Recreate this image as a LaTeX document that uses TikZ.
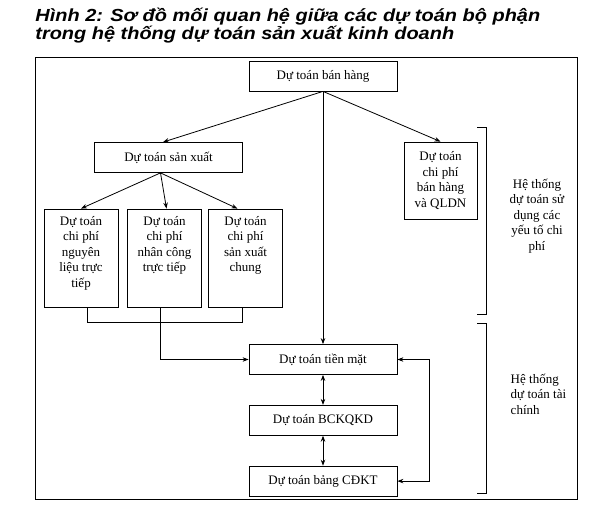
\documentclass[tikz,border=0pt]{standalone}
\usepackage{fontspec}
\setmainfont{Liberation Serif}
\newfontfamily\titlefont[FakeStretch=1.14]{Liberation Sans}
\usetikzlibrary{arrows.meta, positioning}

\newcommand{\toptext}[1]{\parbox[c][84pt][t]{68pt}{\centering #1}}

\begin{document}
\begin{tikzpicture}[
            x = 1pt, y = -1pt, % pixel grid, y downwards
            > = {Stealth[length=6pt, width=4.5pt]}, % arrow head style
            node distance = 30pt, % distance between nodes
            line width = 0.8pt, % line style
            font = \fontsize{13}{15.5}\selectfont
        ]

        \tikzstyle{box}=[
            draw = black,
            fill = white,
            inner sep = 2pt,
            minimum height = 30pt,
            minimum width = 148pt,
            align = center
        ]
        \tikzstyle{cpbox}=[
            box,
            inner xsep = 2pt,
            inner ysep = 7pt,
            minimum width = 74pt
        ]

        \useasboundingbox (0,0) rectangle (594,518);

        % title
        \node[anchor = north west, align = left, inner sep = 0pt,
              font = \titlefont\bfseries\itshape\fontsize{17.5}{16.5}\selectfont]
              (title) at (35,8) {Hình 2: Sơ đồ mối quan hệ giữa các dự toán bộ phận\\trong hệ thống dự toán sản xuất kinh doanh};

        \node[draw, anchor = north west, inner sep = 0pt,
              minimum width = 542pt, minimum height = 442pt] (frame) at (35,57) {};

        \node[box] (ban) at (323,76) {Dự toán bán hàng};
        \node[box] (sx) at (168.5,157.5) {Dự toán sản xuất};
        \node[box, minimum width = 73pt, minimum height = 77pt] (ql) at (440.5,180.5) {Dự toán\\chi phí\\bán hàng\\và QLDN};

        \node[cpbox] (cp1) at (81,258) {\toptext{Dự toán\\chi phí\\nguyên\\liệu trực\\tiếp}};
        \node[cpbox] (cp2) at (164.5,258) {\toptext{Dự toán\\chi phí\\nhân công\\trực tiếp}};
        \node[cpbox] (cp3) at (245.5,258) {\toptext{Dự toán\\chi phí\\sản xuất\\chung}};

        \node[box] (tm) at (323,359.5) {Dự toán tiền mặt};
        \node[box] (bc) [below = of tm] {Dự toán BCKQKD};
        \node[box] (cd) [below = of bc] {Dự toán bảng CĐKT};

        \draw[->] (ban.south) -- ([xshift=-5.5pt]sx.north);
        \draw[->] (ban.south) -- (ql.north);
        \draw[->] (ban.south) -- (tm.north);

        \draw[->] ([xshift=-8pt]sx.south) -- (cp1.north);
        \draw[->] ([xshift=-8pt]sx.south) -- ([xshift=2pt]cp2.north);
        \draw[->] ([xshift=-8pt]sx.south) -- ([xshift=-8pt]cp3.north);

        \draw ([xshift=6pt]cp1.south) -- ++(0,15) -| ([xshift=-3.5pt]cp3.south);
        \draw[->] ([xshift=-4pt]cp2.south) |- (tm.west);

        \draw[<->] (tm) -- (bc);
        \draw[<->] (bc) -- (cd);
        \draw[<->] (tm.east) -- ++(32,0) |- (cd.east);

        % brackets
        \draw (477,127) -- (486,127) -- (486,314) -- (477,314);
        \draw (477,323) -- (486,323) -- (486,493) -- (477,493);

        \node[align = center] (chiphi) at (537,216) {Hệ thống\\dự toán sử\\dụng các\\yếu tố chi\\phí};
        \node[align = left, anchor = west] (taichinh) at (507,394) {Hệ thống\\dự toán tài\\chính};

  \end{tikzpicture}
\end{document}
